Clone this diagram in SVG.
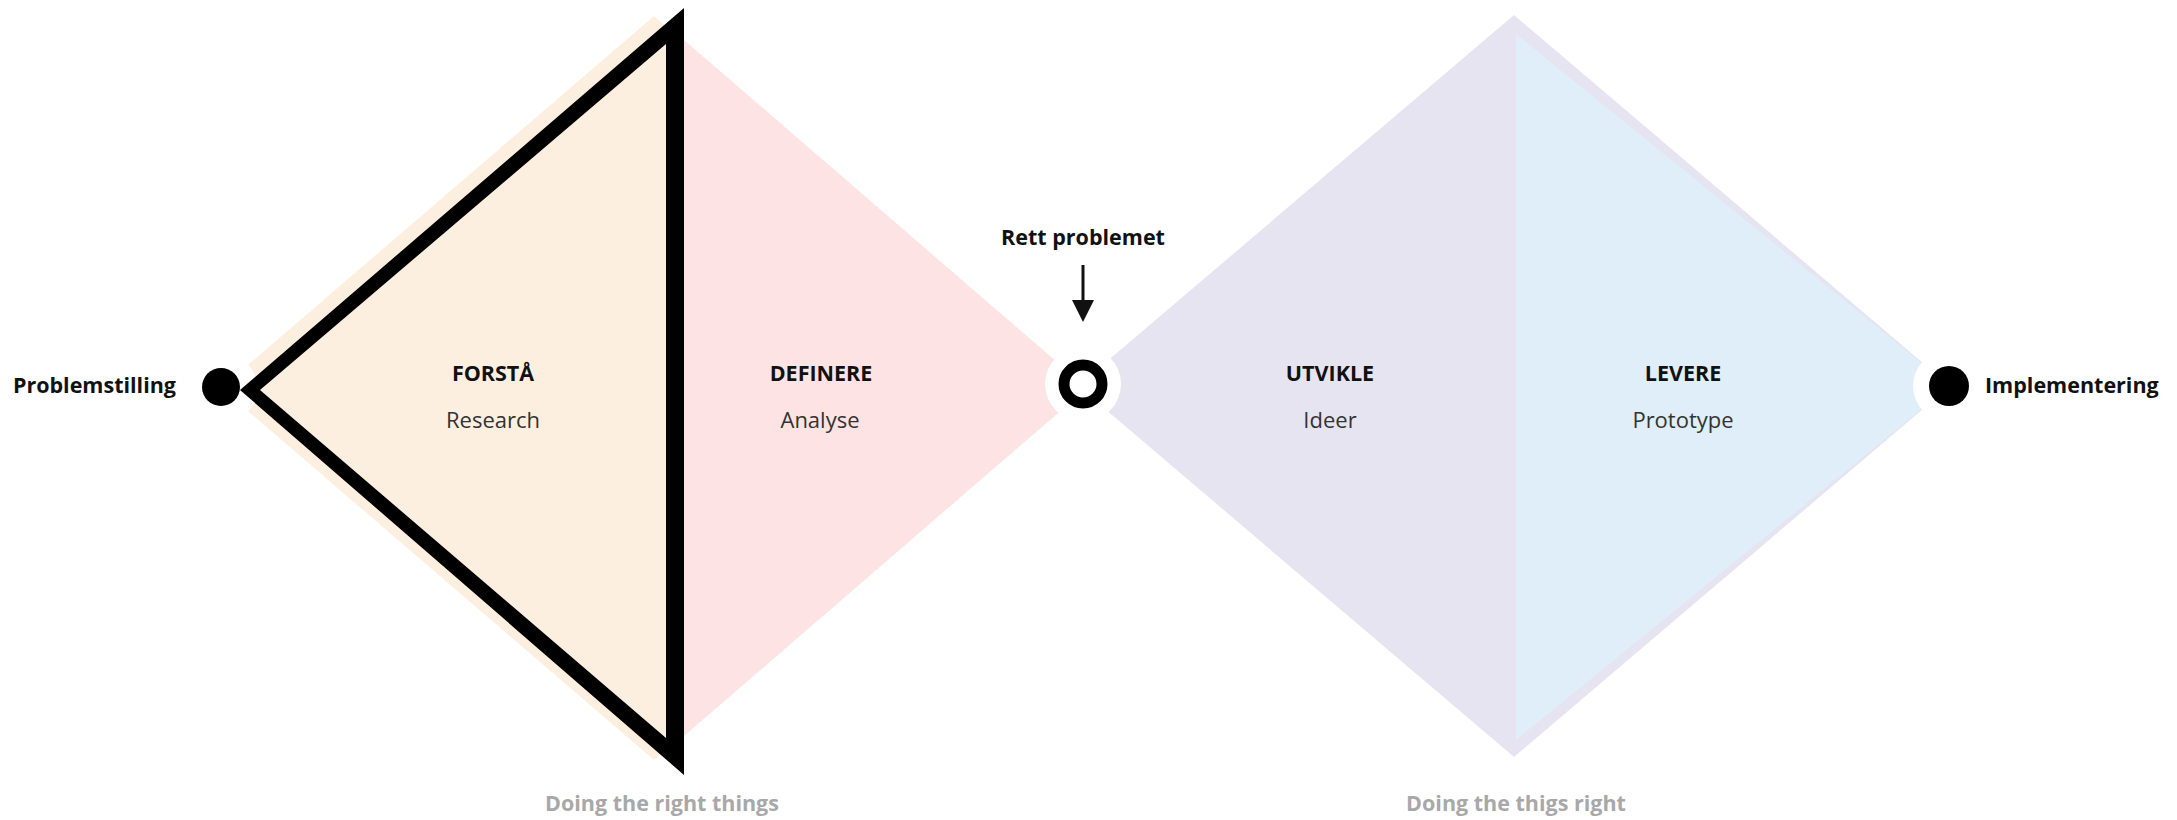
<svg xmlns="http://www.w3.org/2000/svg" width="2177" height="820" viewBox="0 0 2177 820">
  <style>
    .lbl { font-family: "Open Sans", "Liberation Sans", sans-serif; font-size: 21.5px; font-weight: 700; fill: #111111; }
    .sub { font-family: "Open Sans", "Liberation Sans", sans-serif; font-size: 22px; font-weight: 400; fill: #333333; }
    .foot { font-family: "Open Sans", "Liberation Sans", sans-serif; font-size: 21.5px; font-weight: 700; fill: #a8a8a8; }
    .halo { fill: #ffffff; }
  </style>
  <defs>
    <marker id="arrowhead" viewBox="0 0 22 22" refX="2" refY="11" markerWidth="22" markerHeight="22" markerUnits="userSpaceOnUse" orient="auto">
      <path d="M0,0 L22,11 L0,22 Z" fill="#111111"/>
    </marker>
  </defs>
  <rect x="0" y="0" width="2177" height="820" fill="#ffffff"/>

  <g id="diamond-left">
    <polygon points="221,388 654,16 1087,388 654,760" fill="#fdefdf"/>
    <polygon points="684,40 1087,388 684,736" fill="#fde3e3"/>
  </g>
  <g id="diamond-right">
    <polygon points="1078,386 1514,15 1950,386 1514,757" fill="#e7e4f2"/>
    <polygon points="1516,34 1950,386 1516,740" fill="#dfeef8"/>
  </g>

  <g id="halos">
    <circle class="halo" cx="221" cy="388" r="36"/>
    <circle class="halo" cx="1083" cy="384" r="38"/>
    <circle class="halo" cx="1949" cy="386" r="36"/>
  </g>

  <g id="highlight-triangle">
    <path d="M240,390 L684,8 L684,775 Z M260,390 L666,738 L666,44 Z" fill="#000000" fill-rule="evenodd"/>
  </g>

  <g id="node-problemstilling">
    <circle cx="221" cy="387" r="19" fill="#000000"/>
    <text class="lbl" x="176" y="393" text-anchor="end">Problemstilling</text>
  </g>

  <g id="node-forsta">
    <text class="lbl" x="493" y="381" text-anchor="middle">FORSTÅ</text>
    <text class="sub" x="493" y="428" text-anchor="middle">Research</text>
  </g>

  <g id="node-definere">
    <text class="lbl" x="821" y="381" text-anchor="middle">DEFINERE</text>
    <text class="sub" x="820" y="428" text-anchor="middle">Analyse</text>
  </g>

  <g id="node-rett-problemet">
    <circle cx="1083" cy="384" r="19" fill="none" stroke="#000000" stroke-width="11"/>
    <text class="lbl" x="1083" y="245" text-anchor="middle">Rett problemet</text>
  </g>

  <g id="node-utvikle">
    <text class="lbl" x="1330" y="381" text-anchor="middle">UTVIKLE</text>
    <text class="sub" x="1330" y="428" text-anchor="middle">Ideer</text>
  </g>

  <g id="node-levere">
    <text class="lbl" x="1683" y="381" text-anchor="middle">LEVERE</text>
    <text class="sub" x="1683" y="428" text-anchor="middle">Prototype</text>
  </g>

  <g id="node-implementering">
    <circle cx="1949" cy="386" r="20" fill="#000000"/>
    <text class="lbl" x="1985" y="393">Implementering</text>
  </g>

  <g id="footers">
    <text class="foot" x="662" y="811" text-anchor="middle">Doing the right things</text>
    <text class="foot" x="1516" y="811" text-anchor="middle">Doing the thigs right</text>
  </g>

  <g id="connectors">
    <line x1="1083" y1="265" x2="1083" y2="302" stroke="#111111" stroke-width="3" marker-end="url(#arrowhead)"/>
  </g>
</svg>
